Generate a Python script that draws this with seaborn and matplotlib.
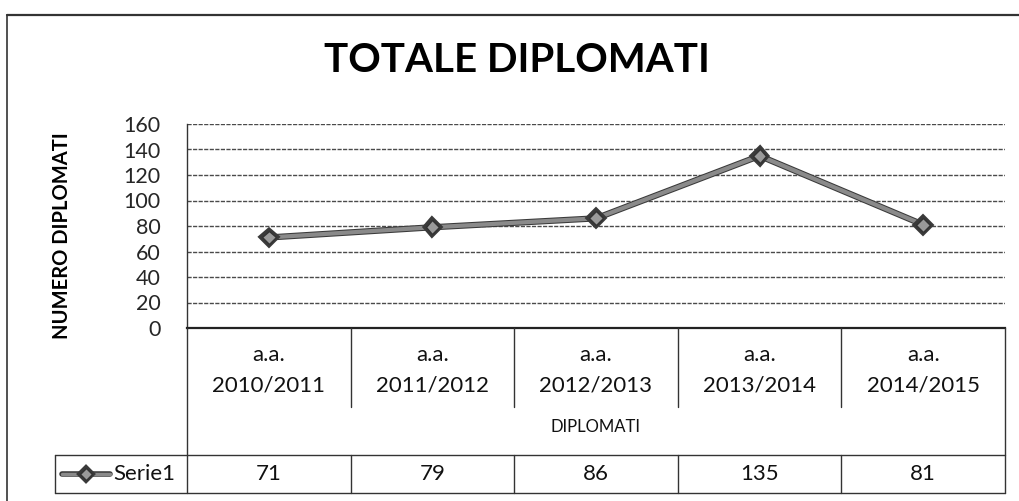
import matplotlib
matplotlib.use("Agg")
import matplotlib.pyplot as plt
import matplotlib.patheffects as pe
from matplotlib.transforms import blended_transform_factory
from matplotlib.lines import Line2D
import seaborn as sns
import pandas as pd

# ---- data ----
categories = ["a.a.\n2010/2011", "a.a.\n2011/2012", "a.a.\n2012/2013",
              "a.a.\n2013/2014", "a.a.\n2014/2015"]
values = [71, 79, 86, 135, 81]
series_name = "Serie1"
yticks = [0, 20, 40, 60, 80, 100, 120, 140, 160]
title = "TOTALE DIPLOMATI"
ylabel = "NUMERO DIPLOMATI"
xlabel = "DIPLOMATI"

sns.set_theme(style="white")
plt.rcParams['font.family'] = ['Lato', 'DejaVu Sans']

W, H = 1019, 501
fig = plt.figure(figsize=(W / 100, H / 100), dpi=100)

def fx(px):
    return px / W

def fy(py):
    return 1 - py / H

left_px, right_px, top_px, bot_px = 187, 1005, 124, 328
ax = fig.add_axes([fx(left_px), fy(bot_px), fx(right_px) - fx(left_px), fy(top_px) - fy(bot_px)])

line_color = "#8a8a8a"
edge_color = "#3a3a3a"
df = pd.DataFrame({"x": list(range(len(values))), "y": values})
sns.lineplot(data=df, x="x", y="y", ax=ax, color=line_color, linewidth=3,
             marker="D", markersize=7, markerfacecolor="#9a9a9a",
             markeredgecolor="#333333", markeredgewidth=1.0,
             path_effects=[pe.Stroke(linewidth=4.5, foreground=edge_color), pe.Normal()],
             zorder=5)

ax.set_xlim(-0.5, len(values) - 0.5)
ax.set_ylim(0, 160)
ax.set_yticks(yticks)
ax.set_yticklabels([str(v) for v in yticks], fontsize=15.5)
ax.set_xticks([])
ax.set_xlabel("")
ax.set_ylabel("")
ax.tick_params(axis="y", length=0, pad=19)
for v in yticks[1:]:
    ax.axhline(v, color="#4a4a4a", linewidth=1.0, linestyle=(0, (3, 1)), zorder=1)
for s in ["top", "right"]:
    ax.spines[s].set_visible(False)
ax.spines["left"].set_color("#333333")
ax.spines["left"].set_linewidth(1.0)
ax.spines["bottom"].set_color("#222222")
ax.spines["bottom"].set_linewidth(1.6)

# title and y label
fig.text(fx(517), fy(60), title, ha="center", va="center", fontsize=29,
         fontweight="bold", color="black")
fig.text(fx(62), fy(236), ylabel, ha="center", va="center", rotation=90,
         fontsize=14.5, fontweight="bold", color="black")

# ---- data table below the axis ----
bt = blended_transform_factory(ax.transData, fig.transFigure)
lc = "#333333"
lw = 1.0
n = len(values)
cat_bottom = 407
row_top, row_bot = 455, 493
row_mid = (row_top + row_bot) / 2

def line_fig(x0, y0, x1, y1, **kw):
    fig.add_artist(Line2D([fx(x0), fx(x1)], [fy(y0), fy(y1)], color=lc,
                          linewidth=kw.get("lw", lw), linestyle=kw.get("ls", "-")))

def line_bt(x0, y0, x1, y1):
    fig.add_artist(Line2D([x0, x1], [fy(y0), fy(y1)], transform=bt, color=lc,
                          linewidth=lw))

# vertical separators in category header
for i in range(1, n):
    line_bt(i - 0.5, bot_px, i - 0.5, cat_bottom)
# outer left/right of table columns
line_bt(-0.5, bot_px, -0.5, row_bot)
line_bt(n - 0.5, bot_px, n - 0.5, row_bot)
# data row
line_fig(55, row_top, right_px, row_top)
line_fig(55, row_bot, right_px, row_bot)
line_fig(55, row_top, 55, row_bot)
for i in range(1, n):
    line_bt(i - 0.5, row_top, i - 0.5, row_bot)

# category labels (two lines each)
for i, c in enumerate(categories):
    first, second = c.split("\n")
    fig.text(i, fy(355), first, transform=bt, ha="center", va="center",
             fontsize=16, color="#111111")
    fig.text(i, fy(385), second, transform=bt, ha="center", va="center",
             fontsize=16, color="#111111")
# x label
fig.text((n - 1) / 2, fy(427), xlabel, transform=bt, ha="center", va="center",
         fontsize=12, color="#111111")
# values
for i, v in enumerate(values):
    fig.text(i, fy(row_mid), str(v), transform=bt, ha="center", va="center",
             fontsize=16, color="#111111")

# legend key in the table row
fig.add_artist(Line2D([fx(62), fx(86), fx(110)], [fy(row_mid)] * 3, color=line_color,
                      linewidth=2.5, marker="D", markevery=[1], markersize=6,
                      markerfacecolor="#9a9a9a", markeredgecolor="#333333",
                      path_effects=[pe.Stroke(linewidth=4, foreground=edge_color), pe.Normal()]))
fig.text(fx(113), fy(row_mid), series_name, ha="left", va="center", fontsize=16,
         color="#111111")

# outer chart border (top and left visible)
line_fig(7, 15, W, 15, lw=1.6)
line_fig(7, 15, 7, H, lw=1.2)

fig.savefig("out.png", dpi=100, facecolor="white")
